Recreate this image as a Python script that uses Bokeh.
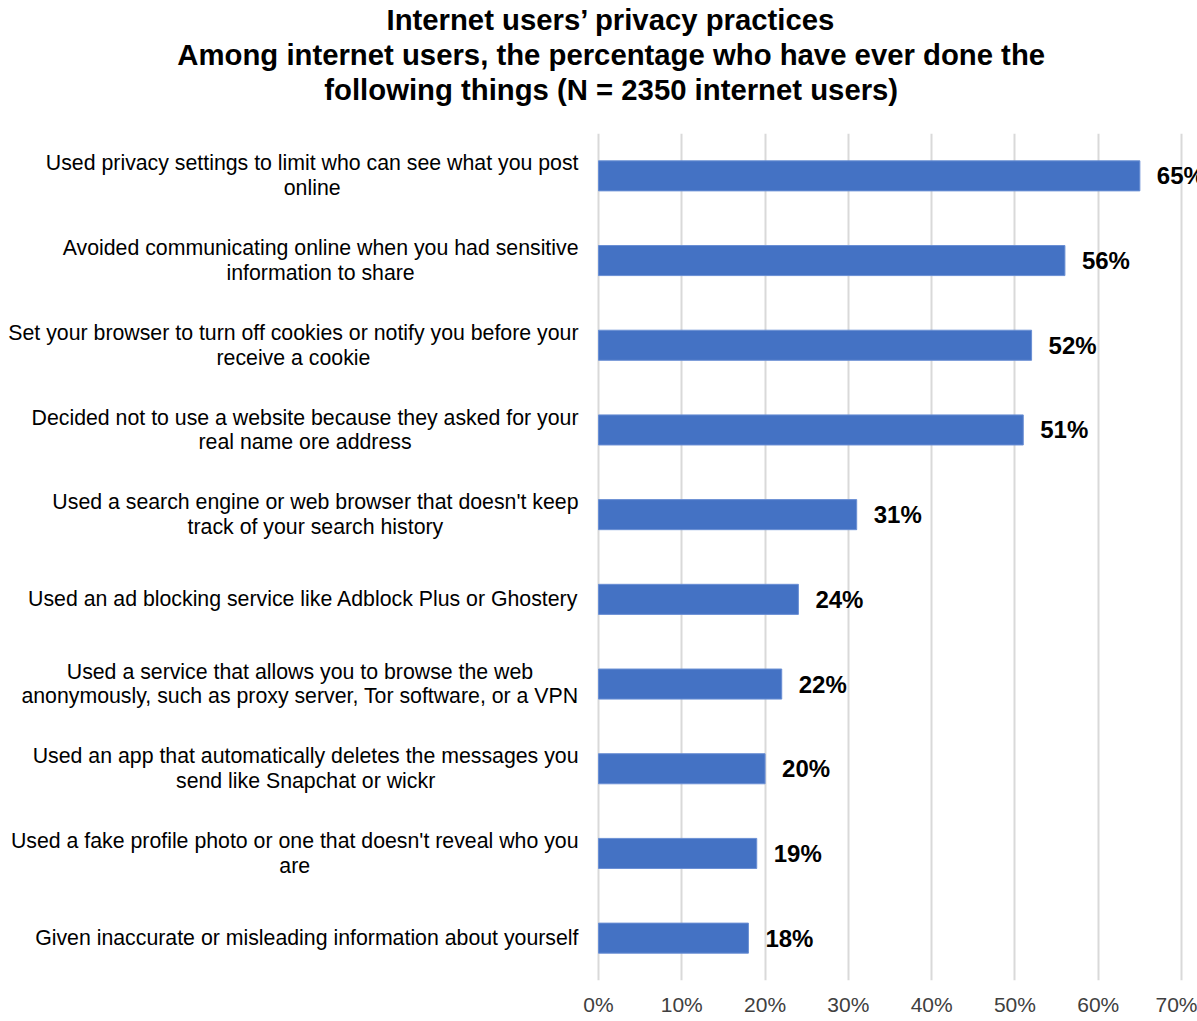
from bokeh.plotting import figure
from bokeh.models import Range1d, FactorRange, FixedTicker, ColumnDataSource, Title
from bokeh.core.properties import value
from bokeh.embed import file_html
from bokeh.resources import INLINE

# ---- data ----
categories = [
    "Used privacy settings to limit who can see what you post\nonline",
    "Avoided communicating online when you had sensitive\ninformation to share",
    "Set your browser to turn off cookies or notify you before your\nreceive a cookie",
    "Decided not to use a website because they asked for your\nreal name ore address",
    "Used a search engine or web browser that doesn't keep\ntrack of your search history",
    "Used an ad blocking service like Adblock Plus or Ghostery",
    "Used a service that allows you to browse the web\nanonymously, such as proxy server, Tor software, or a VPN",
    "Used an app that automatically deletes the messages you\nsend like Snapchat or wickr",
    "Used a fake profile photo or one that doesn't reveal who you\nare",
    "Given inaccurate or misleading information about yourself",
]
percentages = [65, 56, 52, 51, 31, 24, 22, 20, 19, 18]
tick_values = [0, 10, 20, 30, 40, 50, 60, 70]
tick_labels = ["0%", "10%", "20%", "30%", "40%", "50%", "60%", "70%"]
title_lines = [
    "Internet users\u2019 privacy practices",
    "Among internet users, the percentage who have ever done the",
    "following things (N = 2350 internet users)",
]

FONT = "Liberation Sans"

src = ColumnDataSource(dict(
    cat=categories,
    pct=percentages,
    zero=[0] * len(categories),
    pct_label=[f"{v}%" for v in percentages],
))

p = figure(
    width=1197, height=1021,
    output_backend="svg", toolbar_location=None,
    x_range=Range1d(-71.80, 71.92),
    y_range=FactorRange(factors=list(reversed(categories)), range_padding=0),
    y_axis_location=None,
    min_border_left=0, min_border_right=0,
    min_border_top=133, min_border_bottom=41,
    title=None,
)
p.outline_line_color = None
p.background_fill_color = "white"
p.border_fill_color = "white"

# spacer between title block and plot area
p.add_layout(Title(text="\u00a0", text_font=FONT, text_font_size="23px",
                   standoff=0), "above")
# titles: the first added sits nearest the plot
for line in reversed(title_lines):
    t = Title(
        text="\u00a0\u00a0\u00a0" + line,
        align="center",
        standoff=0,
        text_font=FONT,
        text_font_size="29.3px",
        text_font_style="bold",
        text_color="#000000",
    )
    p.add_layout(t, "above")

# grid
p.ygrid.grid_line_color = None
p.xgrid.ticker = FixedTicker(ticks=tick_values)
p.xgrid.grid_line_color = "#d9d9d9"
p.xgrid.grid_line_width = 2

# x axis
ax = p.xaxis[0]
ax.ticker = FixedTicker(ticks=tick_values)
ax.major_label_overrides = dict(zip(tick_values, tick_labels))
ax.axis_line_color = None
ax.major_tick_line_color = None
ax.minor_tick_line_color = None
ax.major_tick_out = 0
ax.major_tick_in = 0
ax.minor_tick_out = 0
ax.major_label_standoff = 12
ax.major_label_text_font = FONT
ax.major_label_text_font_size = "21px"
ax.major_label_text_color = "#404040"

# bars
p.hbar(y="cat", left="zero", right="pct", height=0.355, source=src,
       fill_color="#4472C4", line_color="#6a8fd4", line_width=1)

# category labels
p.text(x="zero", y="cat", text="cat", source=src,
       x_offset=-20, anchor="center_right",
       text_align="center", text_baseline="middle",
       text_font=value(FONT), text_font_size="21.3px",
       text_line_height=1.03, text_color="#000000")

# value labels
p.text(x="pct", y="cat", text="pct_label", source=src,
       x_offset=17, text_align="left", text_baseline="middle",
       text_font=value(FONT), text_font_size="24px",
       text_font_style="bold", text_color="#000000")

open("out.html", "w").write(file_html(p, INLINE))
